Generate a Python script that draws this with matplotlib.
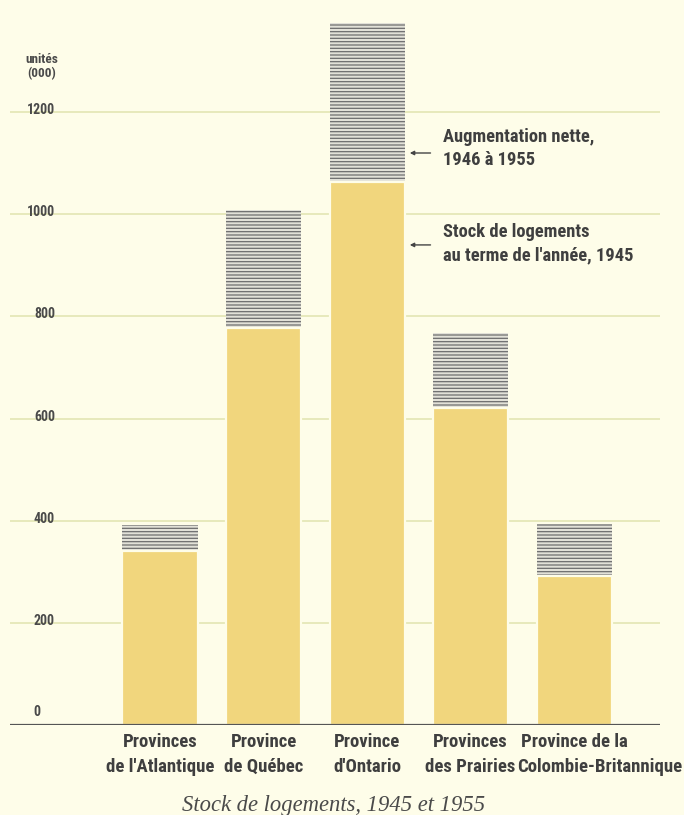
import numpy as np
import matplotlib.pyplot as plt

# data (thousands of dwellings)
regions = ["Provinces\nde l'Atlantique", "Province\nde Québec", "Province\nd'Ontario",
           "Provinces\ndes Prairies", "Province de la\nColombie-Britannique"]
stock_1945 = [340, 778, 1063, 620, 291]
stock_1955 = [392, 1009, 1374, 767, 393]
yticks = [0, 200, 400, 600, 800, 1000, 1200]

increase = np.array(stock_1955) - np.array(stock_1945)

bg = '#fefde9'
yellow = '#f1d67d'
grid = '#e3e6b4'
txt = '#3f3f3f'
font = ['Roboto Condensed', 'DejaVu Sans']

plt.rcParams['hatch.linewidth'] = 0.9

fig = plt.figure(figsize=(6.84, 8.15), dpi=100, facecolor=bg)
ax = fig.add_axes([10 / 684, 90 / 815, 650 / 684, 715 / 815])
ax.set_facecolor(bg)

x = np.arange(len(regions))
ax.bar(x, increase, bottom=stock_1945, width=0.725, color='#e2e1d8',
       edgecolor='#6e6e6e', linewidth=0, hatch='-----', zorder=2)
ax.bar(x, stock_1945, width=0.725, color=yellow, edgecolor=bg,
       linewidth=1.6, zorder=3)

ax.set_xlim(-1.449, 4.83)
ax.set_ylim(0, 1400)

ax.set_yticks(yticks[1:])
ax.yaxis.grid(True, color=grid, linewidth=1.2, zorder=0)
ax.tick_params(left=False, bottom=False, labelleft=False, labelbottom=False)
for s in ax.spines.values():
    s.set_visible(False)
ax.axhline(0, color='#555555', linewidth=1.6, zorder=5)

# y tick labels
for v in yticks[1:]:
    ax.text(-1.015, v + 4, str(v), ha='right', va='center', fontsize=10,
            family=font, fontweight='bold', color='#4a4a4a')
ax.text(-1.19, 12, '0', ha='center', va='bottom', fontsize=10,
        family=font, fontweight='bold', color='#4a4a4a')
ax.text(-1.14, 1290, 'unités\n(000)', ha='center', va='center', fontsize=9.5,
        family=font, fontweight='bold', color='#4a4a4a', linespacing=1.1)

# category labels, line by line (last one's second line sits further right)
shift2 = [0, 0, 0, 0, 0.25]
for i, lab in enumerate(regions):
    l1, l2 = lab.split('\n')
    ax.text(i, -33, l1, ha='center', va='center', fontsize=13.5, family=font,
            fontweight='bold', color=txt)
    ax.text(i + shift2[i], -82, l2, ha='center', va='center', fontsize=13.5,
            family=font, fontweight='bold', color=txt)

# annotations on Ontario bar
ax.annotate('', xy=(2.386, 1120), xytext=(2.64, 1120),
            arrowprops=dict(arrowstyle='-|>', color='#444444', lw=1,
                            mutation_scale=6))
ax.text(2.735, 1128, 'Augmentation nette,\n1946 à 1955', ha='left', va='center',
        fontsize=13.3, family=font, fontweight='bold', color=txt, linespacing=1.35)
ax.annotate('', xy=(2.386, 940), xytext=(2.64, 940),
            arrowprops=dict(arrowstyle='-|>', color='#444444', lw=1,
                            mutation_scale=6))
ax.text(2.735, 942, "Stock de logements\nau terme de l'année, 1945", ha='left',
        va='center', fontsize=13.3, family=font, fontweight='bold', color=txt,
        linespacing=1.35)

fig.text(334 / 684, 10 / 815, 'Stock de logements, 1945 et 1955', ha='center',
         va='center', fontsize=16.3, family='Liberation Serif', style='italic',
         color='#4a4a4a')

fig.savefig('out.png', dpi=100, facecolor=bg)
